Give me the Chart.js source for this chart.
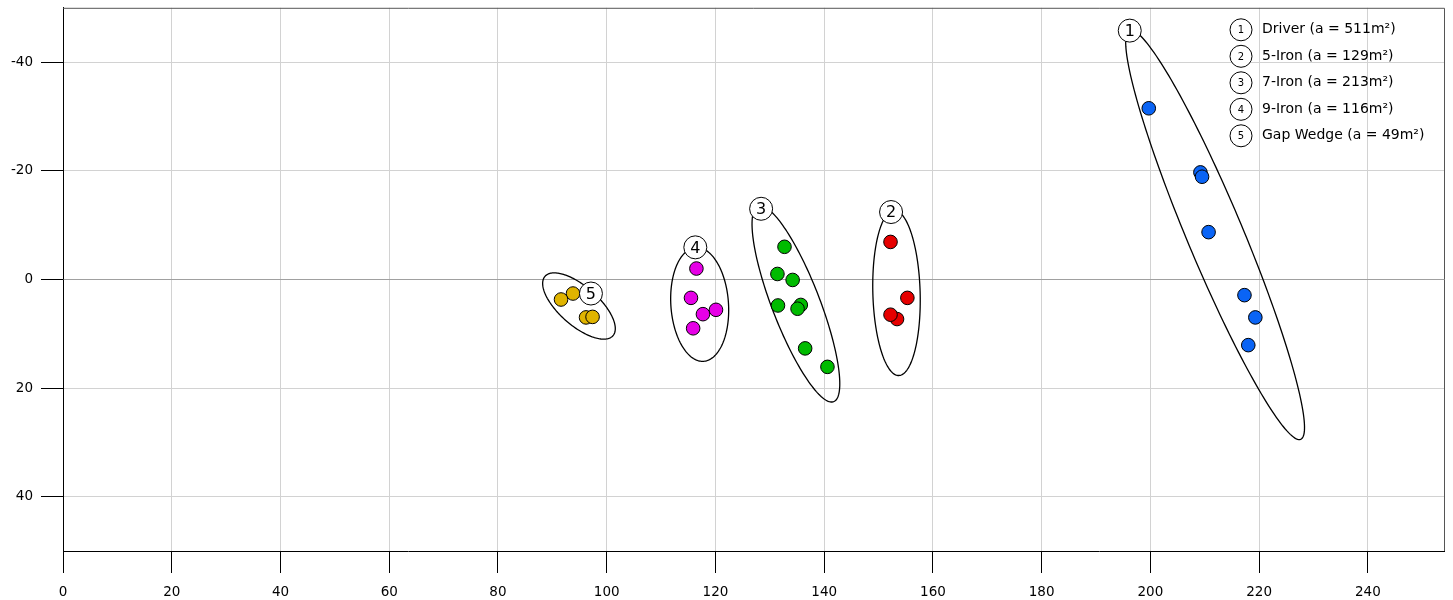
<!DOCTYPE html>
<html>
<head>
<meta charset="utf-8">
<script src="https://cdn.jsdelivr.net/npm/chart.js@4/dist/chart.umd.min.js"></script>
<style>
  html, body { margin: 0; padding: 0; background: #fff; }
  #wrap { width: 1453px; height: 600px; }
</style>
</head>
<body>
<div id="wrap"><canvas id="shotChart"></canvas></div>
<script>
// shot landing points (x = carry, y = offline)
const clubNames = ['Driver', '5-Iron', '7-Iron', '9-Iron', 'Gap Wedge'];
const clubAreas = [511, 129, 213, 116, 49];
const clubColors = ['#0a64f5', '#e60000', '#00bb00', '#e600e6', '#e0b400'];

const driverX = [199.7, 209.2, 209.5, 210.7, 217.3, 219.3, 218.0];
const driverY = [-31.5, -19.7, -18.9, -8.7, 2.9, 7.0, 12.1];
const iron5X = [152.2, 155.3, 153.4, 152.2];
const iron5Y = [-6.9, 3.4, 7.3, 6.5];
const iron7X = [132.7, 131.4, 134.2, 131.5, 135.7, 135.1, 136.5, 140.6];
const iron7Y = [-6.0, -1.0, 0.1, 4.8, 4.7, 5.4, 12.7, 16.1];
const iron9X = [116.5, 115.5, 120.1, 117.7, 115.9];
const iron9Y = [-2.0, 3.4, 5.6, 6.4, 9.0];
const wedgeX = [93.8, 91.6, 96.2, 97.4];
const wedgeY = [2.6, 3.7, 7.0, 6.9];

// dispersion ellipses: centre, semi axes, tilt (deg)
const ellipseCX = [211.9, 153.3, 134.8, 117.1, 94.9];
const ellipseCY = [-8.2, 2.5, 4.5, 4.6, 4.9];
const ellipseA = [40.8, 15.2, 19.3, 10.5, 8.3];
const ellipseB = [5.15, 4.35, 4.4, 5.3, 3.6];
const ellipseTilt = [67.3, 88.4, 68.9, 86.1, 41.2];

// numbered markers on the ellipses
const markerX = [196.2, 152.3, 128.4, 116.3, 97.1];
const markerY = [-45.8, -12.4, -13.0, -5.9, 2.6];

const xTicks = [0, 20, 40, 60, 80, 100, 120, 140, 160, 180, 200, 220, 240];
const yTicks = [-40, -20, 0, 20, 40];

const FONT = "'DejaVu Sans', Verdana, sans-serif";

function toPoints(xs, ys) {
    return xs.map((x, i) => ({ x: x, y: ys[i] }));
}

const seriesX = [driverX, iron5X, iron7X, iron9X, wedgeX];
const seriesY = [driverY, iron5Y, iron7Y, iron9Y, wedgeY];

const datasets = clubNames.map((name, i) => ({
    label: name,
    data: toPoints(seriesX[i], seriesY[i]),
    backgroundColor: clubColors[i],
    borderColor: '#000',
    borderWidth: 1,
    pointRadius: 6.8,
    pointHoverRadius: 6.8
}));

function numberedCircle(ctx, x, y, r, num, fontSize) {
    ctx.beginPath();
    ctx.arc(x, y, r, 0, Math.PI * 2);
    ctx.fillStyle = '#fff';
    ctx.fill();
    ctx.lineWidth = 1;
    ctx.strokeStyle = '#000';
    ctx.stroke();
    ctx.fillStyle = '#000';
    ctx.font = fontSize + 'px ' + FONT;
    ctx.textAlign = 'center';
    ctx.textBaseline = 'middle';
    ctx.fillText(String(num), x, y + 1);
}

const ellipsePlugin = {
    id: 'ellipses',
    beforeDatasetsDraw(chart) {
        const ctx = chart.ctx;
        const xs = chart.scales.x, ys = chart.scales.y;
        const area = chart.chartArea;
        ctx.save();
        // top and right frame
        ctx.strokeStyle = '#555';
        ctx.lineWidth = 1;
        ctx.beginPath();
        ctx.moveTo(area.left, area.top + 0.5);
        ctx.lineTo(area.right + 0.5, area.top + 0.5);
        ctx.lineTo(area.right + 0.5, area.bottom);
        ctx.stroke();

        ctx.strokeStyle = '#000';
        ctx.lineWidth = 1.3;
        for (let i = 0; i < ellipseCX.length; i++) {
            const th = ellipseTilt[i] * Math.PI / 180;
            ctx.beginPath();
            for (let k = 0; k <= 180; k++) {
                const t = k / 180 * Math.PI * 2;
                const u = ellipseA[i] * Math.cos(t);
                const v = ellipseB[i] * Math.sin(t);
                const px = xs.getPixelForValue(ellipseCX[i] + u * Math.cos(th) - v * Math.sin(th));
                const py = ys.getPixelForValue(ellipseCY[i] + u * Math.sin(th) + v * Math.cos(th));
                if (k === 0) ctx.moveTo(px, py); else ctx.lineTo(px, py);
            }
            ctx.closePath();
            ctx.stroke();
        }
        ctx.restore();
    },
    afterDatasetsDraw(chart) {
        const ctx = chart.ctx;
        const xs = chart.scales.x, ys = chart.scales.y;
        const area = chart.chartArea;
        ctx.save();
        for (let i = 0; i < markerX.length; i++) {
            numberedCircle(ctx, xs.getPixelForValue(markerX[i]), ys.getPixelForValue(markerY[i]), 11.5, i + 1, 16);
        }
        // legend, top right
        const lx = area.right - 203, ly = area.top + 22;
        for (let i = 0; i < clubNames.length; i++) {
            const cy = ly + i * 26.5;
            numberedCircle(ctx, lx, cy, 11, i + 1, 10);
            ctx.font = '14px ' + FONT;
            ctx.textAlign = 'left';
            ctx.textBaseline = 'middle';
            ctx.fillText(clubNames[i] + ' (a = ' + clubAreas[i] + 'm\u00b2)', lx + 21, cy);
        }
        ctx.restore();
    }
};

function noPad(s) {
    s.paddingTop = 0;
    s.paddingBottom = 0;
    s.paddingLeft = 0;
    s.paddingRight = 0;
}

new Chart(document.getElementById('shotChart'), {
    type: 'scatter',
    data: { datasets: datasets },
    options: {
        responsive: true,
        maintainAspectRatio: false,
        animation: false,
        layout: { padding: { top: 7, right: 9, left: 0, bottom: 0 } },
        plugins: {
            legend: { display: false },
            tooltip: { enabled: false }
        },
        scales: {
            x: {
                type: 'linear',
                min: 0,
                max: 254,
                afterBuildTicks: s => { s.ticks = xTicks.map(v => ({ value: v })); },
                afterFit: s => { s.height = 49; noPad(s); },
                grid: {
                    color: '#d2d2d2',
                    tickColor: '#000',
                    tickLength: 22,
                    lineWidth: 1
                },
                border: { display: true, color: '#000', width: 1 },
                ticks: {
                    color: '#000',
                    padding: 11,
                    maxRotation: 0,
                    font: { family: FONT, size: 13.5 }
                }
            },
            y: {
                type: 'linear',
                min: -50,
                max: 50,
                reverse: true,
                afterBuildTicks: s => { s.ticks = yTicks.map(v => ({ value: v })); },
                afterFit: s => { s.width = 63; noPad(s); },
                grid: {
                    color: ctx => (ctx.tick && ctx.tick.value === 0) ? '#a0a0a0' : '#d2d2d2',
                    tickColor: '#000',
                    tickLength: 22,
                    lineWidth: 1
                },
                border: { display: true, color: '#000', width: 1 },
                ticks: {
                    color: '#000',
                    padding: 8,
                    font: { family: FONT, size: 13.5 }
                }
            }
        }
    },
    plugins: [ellipsePlugin]
});
</script>
</body>
</html>
